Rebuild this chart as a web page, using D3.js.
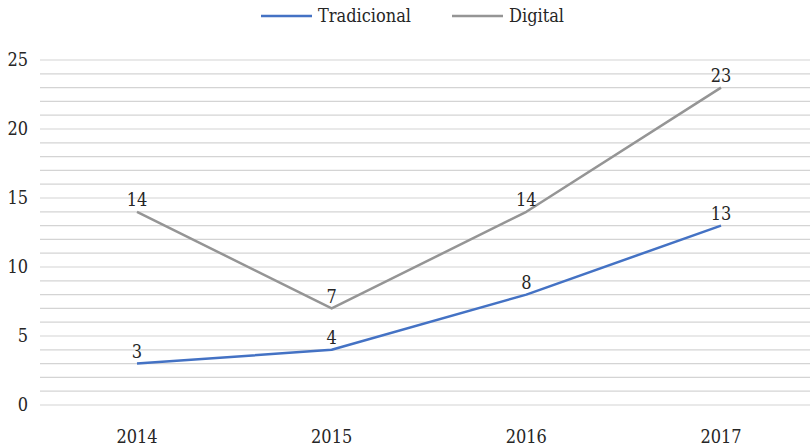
<!DOCTYPE html>
<html lang="es">
<head>
  <meta charset="UTF-8">
  <title>Tradicional vs Digital</title>
  <script src="https://d3js.org/d3.v7.min.js"></script>
  <style>
    body { margin: 0; background: #fff; }
  </style>
</head>
<body>
  <div id="root"></div>
  <script>
    // datos
    const years = ['2014', '2015', '2016', '2017']
    const tradicional = [3, 4, 8, 13]
    const digital = [14, 7, 14, 23]
    const yTicks = [0, 5, 10, 15, 20, 25]

    const width = 810
    const height = 448
    const font = "'DejaVu Serif Condensed', 'DejaVu Serif', serif"

    const svg = d3.select('#root')
      .append('svg')
      .attr('width', width)
      .attr('height', height)

    const x = d3.scalePoint().domain(years).range([137, 721])
    const y = d3.scaleLinear().domain([0, 25]).range([405, 60])

    // líneas de cuadrícula cada 1
    svg.append('g')
      .selectAll('line')
      .data(d3.range(0, 26))
      .join('line')
      .attr('x1', 40)
      .attr('x2', width)
      .attr('y1', d => y(d))
      .attr('y2', d => y(d))
      .attr('stroke', '#d4d4d4')
      .attr('stroke-width', 1.2)

    // eje y
    svg.append('g')
      .selectAll('text')
      .data(yTicks)
      .join('text')
      .attr('x', 28)
      .attr('y', d => y(d))
      .attr('dy', '0.35em')
      .attr('text-anchor', 'end')
      .attr('font-family', font)
      .attr('font-size', 18)
      .attr('fill', '#262626')
      .text(d => d)

    // eje x
    svg.append('g')
      .selectAll('text')
      .data(years)
      .join('text')
      .attr('x', d => x(d))
      .attr('y', 437)
      .attr('dy', '0.35em')
      .attr('text-anchor', 'middle')
      .attr('font-family', font)
      .attr('font-size', 18)
      .attr('fill', '#262626')
      .text(d => d)

    const series = [
      {name: 'Tradicional', values: tradicional, color: '#4472c4'},
      {name: 'Digital', values: digital, color: '#959595'}
    ]

    const line = d3.line()
      .x((d, i) => x(years[i]))
      .y(d => y(d))

    series.forEach(s => {
      svg.append('path')
        .datum(s.values)
        .attr('fill', 'none')
        .attr('stroke', s.color)
        .attr('stroke-width', 2.5)
        .attr('stroke-linejoin', 'round')
        .attr('d', line)

      svg.append('g')
        .selectAll('text')
        .data(s.values)
        .join('text')
        .attr('x', (d, i) => x(years[i]))
        .attr('y', d => y(d) - 12)
        .attr('dy', '0.35em')
        .attr('text-anchor', 'middle')
        .attr('font-family', font)
        .attr('font-size', 18)
        .attr('fill', '#262626')
        .text(d => d)
    })

    // leyenda
    const legendPos = [261, 452]
    const legend = svg.append('g')
    series.forEach((s, i) => {
      const g = legend.append('g').attr('transform', `translate(${legendPos[i]}, 16)`)
      g.append('line')
        .attr('x1', 0).attr('x2', 51)
        .attr('stroke', s.color)
        .attr('stroke-width', 2.5)
      g.append('text')
        .attr('x', 57)
        .attr('dy', '0.35em')
        .attr('font-family', font)
        .attr('font-size', 18)
        .attr('fill', '#262626')
        .text(s.name)
    })
  </script>
</body>
</html>
